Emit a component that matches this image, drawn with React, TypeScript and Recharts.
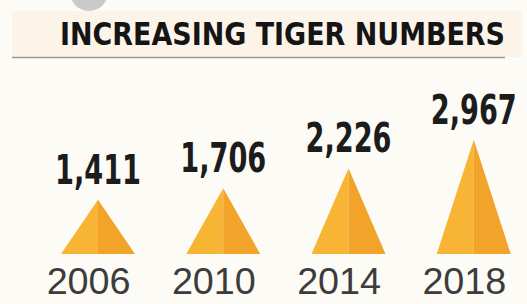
import React from 'react';
import { BarChart, Bar, XAxis, YAxis, LabelList } from 'recharts';

const years = ['2006', '2010', '2014', '2018'];
const tigers = [1411, 1706, 2226, 2967];
const valueLabels = ['1,411', '1,706', '2,226', '2,967'];

const data = years.map((year, i) => ({ year, count: tigers[i], label: valueLabels[i] }));

const condensed = "'DejaVu Sans Condensed', 'Liberation Sans Narrow', 'Roboto', sans-serif";

// two-tone pyramid drawn inside the bar's box
const Pyramid = (props: any) => {
  const { x, y, width, height } = props;
  if (!height || height <= 0) return null;
  const cx = x + width / 2;
  const b = y + height;
  return (
    <g>
      <polygon points={`${x},${b} ${cx},${y} ${cx},${b}`} fill="#f8b434" />
      <polygon points={`${cx},${y} ${x + width},${b} ${cx},${b}`} fill="#f2a42a" />
    </g>
  );
};

const YearTick = (props: any) => {
  const { x, y, payload } = props;
  return (
    <text
      x={x - 9}
      y={y + 40}
      textAnchor="middle"
      fontFamily="'Liberation Sans', Arial, sans-serif"
      fontSize={37}
      fill="#3c3c3c"
      textLength={84}
      lengthAdjust="spacingAndGlyphs"
    >
      {payload.value}
    </text>
  );
};

const ValueLabel = (props: any) => {
  const { x, y, width, index } = props;
  return (
    <text
      x={x + width / 2}
      y={y - 16}
      textAnchor="middle"
      fontFamily={condensed}
      fontWeight="bold"
      fontSize={41}
      fill="#1c1c1c"
      textLength={86}
      lengthAdjust="spacingAndGlyphs"
    >
      {valueLabels[index]}
    </text>
  );
};

export default function App() {
  return (
    <div style={{ width: 527, height: 304, position: 'fixed', left: 0, top: 0, overflow: 'hidden', background: '#fdfbf6' }}>
      <svg width={527} height={70} style={{ position: 'absolute', left: 0, top: 0 }}>
        <rect x={12} y={11} width={510} height={46} fill="#fcf4e8" />
        <circle cx={89} cy={-8} r={19} fill="#cacaca" />
        <line x1={12} y1={57.5} x2={505} y2={57.5} stroke="#9a9a9a" strokeWidth={1.5} />
        <text
          x={60}
          y={45}
          fontFamily={condensed}
          fontWeight="bold"
          fontSize={32}
          fill="#151515"
          textLength={445}
          lengthAdjust="spacingAndGlyphs"
        >
          INCREASING TIGER NUMBERS
        </text>
      </svg>
      <div style={{ position: 'absolute', left: 0, top: 0 }}>
        <BarChart width={540} height={304} data={data} margin={{ top: 100, right: 4, left: 35, bottom: 0 }}>
          <XAxis dataKey="year" height={50} axisLine={false} tickLine={false} tickSize={0} tickMargin={0} tick={<YearTick />} interval={0} />
          <YAxis hide domain={[0, 4000]} />
          <Bar dataKey="count" barSize={74} shape={<Pyramid />} isAnimationActive={false}>
            <LabelList dataKey="label" content={<ValueLabel />} />
          </Bar>
        </BarChart>
      </div>
    </div>
  );
}
